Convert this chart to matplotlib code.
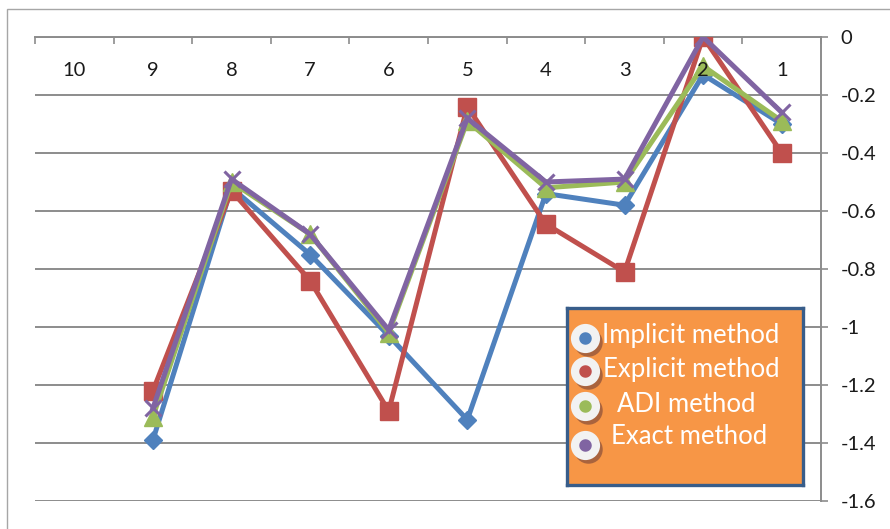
import numpy as np
import matplotlib
matplotlib.use("Agg")
import matplotlib.pyplot as plt
from matplotlib.patches import Rectangle
from matplotlib.ticker import FixedLocator, FuncFormatter
from matplotlib.transforms import offset_copy

plt.rcParams['font.family'] = ['Lato', 'DejaVu Sans']
plt.rcParams['axes.unicode_minus'] = False

# Time steps shown on the category axis, right-to-left from 10 down to 1
steps = [10, 9, 8, 7, 6, 5, 4, 3, 2, 1]
nan = np.nan
implicit = [nan, -1.39, -0.52, -0.75, -1.03, -1.32, -0.54, -0.58, -0.13, -0.30]
explicit = [nan, -1.22, -0.53, -0.84, -1.29, -0.24, -0.645, -0.81, 0.0, -0.40]
adi = [nan, -1.31, -0.50, -0.68, -1.02, -0.29, -0.52, -0.50, -0.10, -0.29]
exact = [nan, -1.28, -0.49, -0.68, -1.01, -0.28, -0.50, -0.49, 0.0, -0.26]
series_names = ["Implicit method", "Explicit method", "ADI method", "Exact method"]
y_ticks = [0, -0.2, -0.4, -0.6, -0.8, -1.0, -1.2, -1.4, -1.6]

colors = ["#4F81BD", "#C0504D", "#9BBB59", "#8064A2"]
grid_col = "#8C8C8C"

fig = plt.figure(figsize=(8.9, 5.29), dpi=100)
W, H = 890, 529

# chart-area frame
fig.patches.append(Rectangle((7 / W, -0.2), 1.2, 1 - 9 / H + 0.2,
                             transform=fig.transFigure, fill=False,
                             edgecolor="#A6A6A6", lw=1.0, zorder=0))

ax = fig.add_axes([35 / W, 1 - 501 / H, (821 - 35) / W, (501 - 37) / H])
ax.set_facecolor("none")

x = np.arange(len(steps))
ax.set_xlim(-0.5, len(steps) - 0.5)
ax.set_ylim(-1.6, 0)

# horizontal gridlines, kept beneath the series
ax.hlines(y_ticks, -0.5, len(steps) - 0.5, color=grid_col, lw=1.4, zorder=1)

styles = [
    dict(marker="D", ms=9.5),
    dict(marker="s", ms=12.5),
    dict(marker="^", ms=13),
    dict(marker="x", ms=11, mew=2.2),
]
for vals, c, st in zip([implicit, explicit, adi, exact], colors, styles):
    ax.plot(x, vals, color=c, lw=3.6, markerfacecolor=c, markeredgecolor=c,
            solid_joinstyle="miter", zorder=2, **st)

# axis (and its labels) drawn above the series
ax.set_axisbelow(False)

# value axis on the right
ax.yaxis.set_major_locator(FixedLocator(y_ticks))
ax.yaxis.tick_right()
ax.yaxis.set_major_formatter(FuncFormatter(lambda v, p: f"{v:g}"))
ax.tick_params(axis="y", which="major", direction="out", length=5,
               width=1.2, color=grid_col, pad=9, labelsize=14.5,
               labelcolor="#1a1a1a")

# category axis along the zero line, labels just below it
ax.xaxis.tick_top()
ax.xaxis.set_major_locator(FixedLocator(np.arange(-0.5, len(steps), 1.0)))
ax.xaxis.set_minor_locator(FixedLocator(x))
ax.set_xticklabels([], minor=False)
ax.set_xticklabels([str(s) for s in steps], minor=True)
ax.tick_params(axis="x", which="major", direction="in", length=5,
               width=1.2, color=grid_col)
ax.tick_params(axis="x", which="minor", length=0, pad=-24, labelsize=14.5,
               labelcolor="#1a1a1a")
for lab in ax.get_xticklabels(minor=True):
    lab.set_va("center")

for side in ["left", "bottom"]:
    ax.spines[side].set_visible(False)
for side in ["top", "right"]:
    ax.spines[side].set_color(grid_col)
    ax.spines[side].set_linewidth(1.4)
    ax.spines[side].set_zorder(1)

# legend panel
lx0, lx1, ly0, ly1 = 567, 803, 308, 485
lg = fig.add_axes([lx0 / W, 1 - ly1 / H, (lx1 - lx0) / W, (ly1 - ly0) / H])
lg.set_facecolor("#F79646")
lg.set_xlim(0, lx1 - lx0)
lg.set_ylim(ly1 - ly0, 0)
lg.set_xticks([])
lg.set_yticks([])
for sp in lg.spines.values():
    sp.set_color("#385D8A")
    sp.set_linewidth(2.4)
lg.set_zorder(5)

mark_y = [30, 63, 98, 137]
text_y = [28, 62, 97, 129]
text_x = [124, 124, 119, 122]
shadow = offset_copy(lg.transData, fig=fig, x=2.5, y=-3.5, units="dots")
for name, c, my, tx, ty in zip(series_names, colors, mark_y, text_x, text_y):
    lg.plot([18], [my], marker="o", ms=20.5, color="#9C5B3C", mew=0,
            transform=shadow, alpha=0.85)
    lg.plot([18], [my], marker="o", ms=15, markerfacecolor=c,
            markeredgecolor="#F2F2F2", mew=6)
    lg.text(tx, ty, name, color="white", fontsize=18.5, ha="center",
            va="center")

fig.savefig("out.png", dpi=100)
